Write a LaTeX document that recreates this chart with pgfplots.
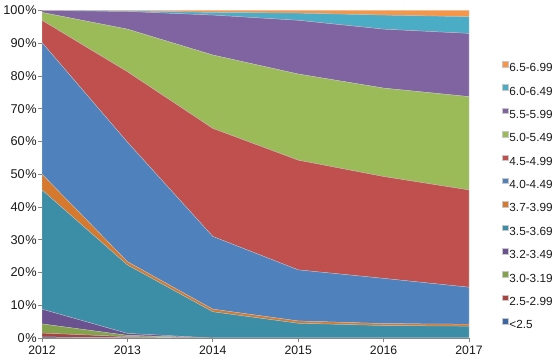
\documentclass[border=0pt]{standalone}
\usepackage{fontspec}
\setmainfont{Liberation Sans}
\usepackage{pgfplots}
\pgfplotsset{compat=1.18}
\definecolor{cA}{HTML}{3C67A0}
\definecolor{cB}{HTML}{A9433F}
\definecolor{cC}{HTML}{84A24C}
\definecolor{cD}{HTML}{6A5290}
\definecolor{cE}{HTML}{3B8EA5}
\definecolor{cF}{HTML}{D5792F}
\definecolor{cG}{HTML}{4F81BD}
\definecolor{cH}{HTML}{C0504D}
\definecolor{cI}{HTML}{9BBB59}
\definecolor{cJ}{HTML}{8064A2}
\definecolor{cK}{HTML}{4BACC6}
\definecolor{cL}{HTML}{F79646}
\definecolor{axgray}{HTML}{868686}
\definecolor{bd}{HTML}{C8C8C8}
\newcommand{\lf}{\fontsize{11.8}{14}\selectfont}
\begin{document}
\begin{tikzpicture}
\path[use as bounding box] (0,0) rectangle (560bp,362bp);
\begin{axis}[
  at={(42bp,24bp)}, anchor=south west,
  scale only axis, width=427bp, height=327.5bp,
  xmin=2012, xmax=2017, ymin=0, ymax=100,
  stack plots=y,
  axis x line*=bottom, axis y line*=left,
  axis line style={draw=axgray, line width=0.7pt},
  xtick={2012,2013,2014,2015,2016,2017},
  ytick={0,10,20,30,40,50,60,70,80,90,100},
  tick align=outside, major tick length=4bp,
  tick style={draw=axgray, line width=0.7pt},
  /pgf/number format/assume math mode=true,
  /pgf/number format/1000 sep={},
  yticklabel={\pgfmathprintnumber{\tick}\kern0.8bp\%},
  ticklabel style={text=black!90},
  yticklabel style={inner sep=0pt, xshift=-1bp, font=\fontsize{12.8}{14}\selectfont},
  xticklabel style={inner sep=0pt, yshift=-3.5bp, font=\fontsize{12.3}{14}\selectfont},
  reverse legend,
  legend cell align=left,
  legend style={at={(1.0773,0.8461)}, anchor=north west, draw=none, fill=none,
    inner sep=0pt, row sep=11.1bp, column sep=1.5bp,
    font=\lf, text=black!90,
    nodes={inner sep=0pt, text height=8.6bp, text depth=1.7bp}},
  legend image code/.code={\fill[#1] (0bp,1.5bp) rectangle (5.5bp,7bp);},
  every axis plot/.append style={draw=bd, line width=0.25pt},
]
\addplot[fill=cA] coordinates {(2012,0.3) (2013,0.1) (2014,0) (2015,0) (2016,0) (2017,0)} \closedcycle;
\addlegendentry{\lf <2.5}
\addplot[fill=cB] coordinates {(2012,1.2) (2013,0.3) (2014,0) (2015,0) (2016,0) (2017,0)} \closedcycle;
\addlegendentry{\lf 2.5-2.99}
\addplot[fill=cC] coordinates {(2012,2.8) (2013,0.4) (2014,0) (2015,0) (2016,0) (2017,0)} \closedcycle;
\addlegendentry{\lf 3.0-3.19}
\addplot[fill=cD] coordinates {(2012,4.5) (2013,0.6) (2014,0) (2015,0) (2016,0) (2017,0)} \closedcycle;
\addlegendentry{\lf 3.2-3.49}
\addplot[fill=cE] coordinates {(2012,36.4) (2013,20.9) (2014,8.0) (2015,4.5) (2016,3.8) (2017,3.6)} \closedcycle;
\addlegendentry{\lf 3.5-3.69}
\addplot[fill=cF] coordinates {(2012,4.8) (2013,1.0) (2014,0.8) (2015,0.7) (2016,0.6) (2017,0.6)} \closedcycle;
\addlegendentry{\lf 3.7-3.99}
\addplot[fill=cG] coordinates {(2012,40.2) (2013,36.5) (2014,22.2) (2015,15.6) (2016,13.8) (2017,11.3)} \closedcycle;
\addlegendentry{\lf 4.0-4.49}
\addplot[fill=cH] coordinates {(2012,6.8) (2013,21.5) (2014,33.0) (2015,33.5) (2016,31.1) (2017,29.7)} \closedcycle;
\addlegendentry{\lf 4.5-4.99}
\addplot[fill=cI] coordinates {(2012,2.4) (2013,13.0) (2014,22.4) (2015,26.3) (2016,27.0) (2017,28.5)} \closedcycle;
\addlegendentry{\lf 5.0-5.49}
\addplot[fill=cJ] coordinates {(2012,0.6) (2013,5.4) (2014,12.2) (2015,16.4) (2016,18.0) (2017,19.3)} \closedcycle;
\addlegendentry{\lf 5.5-5.99}
\addplot[fill=cK] coordinates {(2012,0) (2013,0.2) (2014,0.8) (2015,2.2) (2016,4.3) (2017,5.1)} \closedcycle;
\addlegendentry{\lf 6.0-6.49}
\addplot[fill=cL] coordinates {(2012,0) (2013,0.1) (2014,0.6) (2015,0.8) (2016,1.4) (2017,1.9)} \closedcycle;
\addlegendentry{\lf 6.5-6.99}
\end{axis}
\end{tikzpicture}
\end{document}
